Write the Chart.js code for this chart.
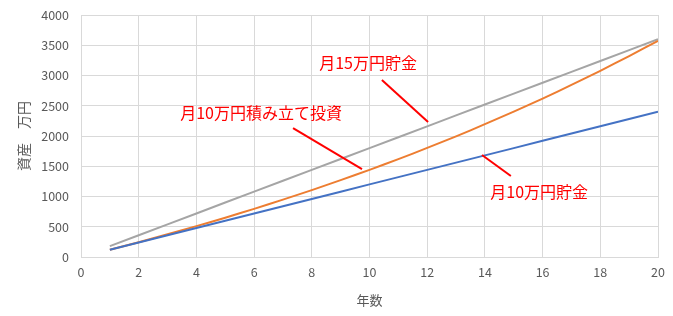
<!DOCTYPE html>
<html>
<head>
<meta charset="utf-8">
<script src="https://cdn.jsdelivr.net/npm/chart.js@4/dist/chart.umd.min.js"></script>
<style>
  html, body { margin: 0; padding: 0; background: #fff; }
  #wrap { width: 673px; height: 316px; }
</style>
</head>
<body>
<div id="wrap"><canvas id="c" width="673" height="316"></canvas></div>
<script>
const years = [1,2,3,4,5,6,7,8,9,10,11,12,13,14,15,16,17,18,19,20];
const savings10 = [120,240,360,480,600,720,840,960,1080,1200,1320,1440,1560,1680,1800,1920,2040,2160,2280,2400];
const invest10 = [120,245,375,510,650,796,948,1106,1270,1441,1618,1803,1995,2195,2403,2619,2844,3078,3321,3574];
const savings15 = [180,360,540,720,900,1080,1260,1440,1620,1800,1980,2160,2340,2520,2700,2880,3060,3240,3420,3600];
const seriesNames = ['月10万円貯金', '月10万円積み立て投資', '月15万円貯金'];
const xTitle = '年数';
const yTitle = '資産　万円';

const JP = '"Noto Sans CJK JP", "Noto Sans", sans-serif';

// callouts: label text, label anchor (data coords), leader line (data coords)
const callouts = [
  { text: '月15万円貯金', tx: 9.95, ty: 3207, x1: 10.43, y1: 2926, x2: 12.03, y2: 2232 },
  { text: '月10万円積み立て投資', tx: 6.24, ty: 2380, x1: 7.35, y1: 2130, x2: 9.74, y2: 1454 },
  { text: '月10万円貯金', tx: 15.88, ty: 1074, x1: 13.90, y1: 1687, x2: 14.90, y2: 1339 }
];

const calloutPlugin = {
  id: 'callouts',
  afterDatasetsDraw(chart) {
    const ctx = chart.ctx, xs = chart.scales.x, ys = chart.scales.y;
    ctx.save();
    callouts.forEach(c => {
      ctx.strokeStyle = '#ff0000';
      ctx.lineWidth = 2;
      ctx.beginPath();
      ctx.moveTo(xs.getPixelForValue(c.x1), ys.getPixelForValue(c.y1));
      ctx.lineTo(xs.getPixelForValue(c.x2), ys.getPixelForValue(c.y2));
      ctx.stroke();
      ctx.fillStyle = '#ff0000';
      ctx.font = '16px ' + JP;
      ctx.textAlign = 'center';
      ctx.textBaseline = 'middle';
      ctx.fillText(c.text, xs.getPixelForValue(c.tx), ys.getPixelForValue(c.ty));
    });
    ctx.restore();
  }
};

const toPts = arr => years.map((x, i) => ({ x: x, y: arr[i] }));

new Chart(document.getElementById('c'), {
  type: 'line',
  data: {
    datasets: [
      { label: seriesNames[0], data: toPts(savings10), borderColor: '#4472C4', backgroundColor: '#4472C4', borderWidth: 2, pointRadius: 0, tension: 0 },
      { label: seriesNames[1], data: toPts(invest10), borderColor: '#ED7D31', backgroundColor: '#ED7D31', borderWidth: 2, pointRadius: 0, tension: 0.3 },
      { label: seriesNames[2], data: toPts(savings15), borderColor: '#A5A5A5', backgroundColor: '#A5A5A5', borderWidth: 2, pointRadius: 0, tension: 0 }
    ]
  },
  options: {
    responsive: false,
    animation: false,
    layout: { padding: { left: 0, right: 15, top: 15, bottom: 0 } },
    plugins: { legend: { display: false }, tooltip: { enabled: false } },
    scales: {
      x: {
        type: 'linear', min: 0, max: 20,
        ticks: { stepSize: 2, color: '#595959', font: { family: JP, size: 12.5 }, padding: 8, maxRotation: 0 },
        grid: { color: '#d9d9d9', drawTicks: false },
        border: { color: '#d9d9d9' },
        title: { display: true, text: xTitle, color: '#595959', font: { family: JP, size: 13 }, padding: { top: 0, bottom: 8 } },
        afterFit(s) { s.height = 59; s.paddingLeft = 0; s.paddingRight = 0; }
      },
      y: {
        min: 0, max: 4000,
        ticks: { stepSize: 500, color: '#595959', font: { family: JP, size: 12.5 }, padding: 12, callback: v => String(v) },
        grid: { color: '#d9d9d9', drawTicks: false },
        border: { display: false },
        title: { display: true, text: yTitle, color: '#595959', font: { family: JP, size: 14 }, padding: { top: 15, bottom: 0 } },
        afterFit(s) { s.width = 81; s.paddingTop = 0; s.paddingBottom = 0; }
      }
    }
  },
  plugins: [calloutPlugin]
});
</script>
</body>
</html>
